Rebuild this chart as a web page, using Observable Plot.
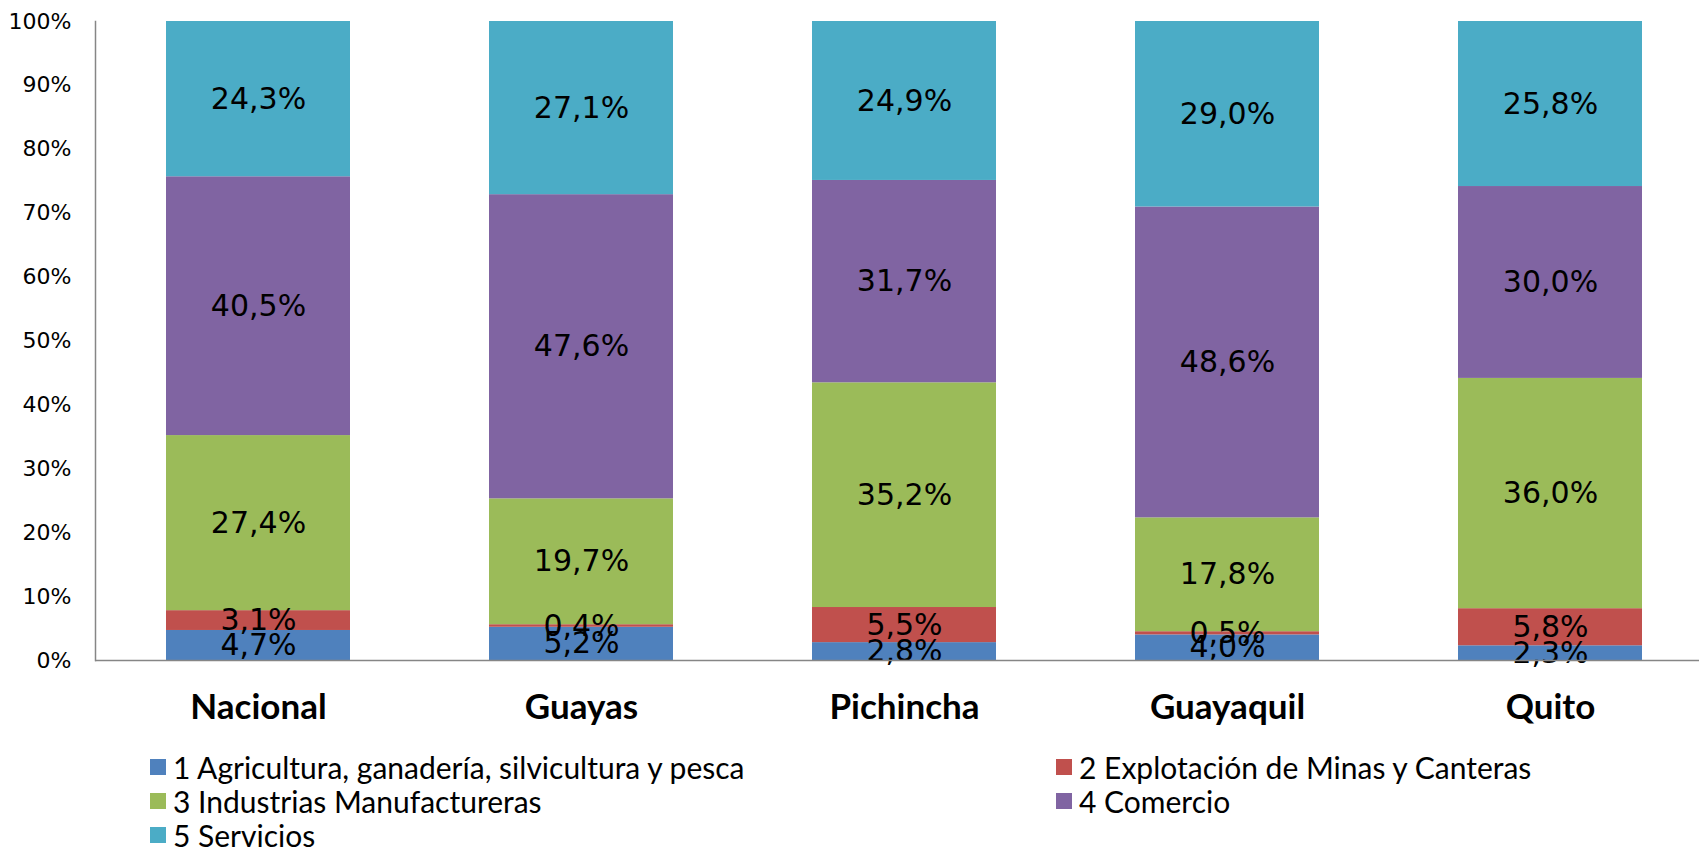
<!DOCTYPE html>
<html>
<head>
<meta charset="utf-8">
<script src="https://cdn.jsdelivr.net/npm/d3@7"></script>
<script src="https://cdn.jsdelivr.net/npm/@observablehq/plot@0.6"></script>
<style>
  html, body { margin: 0; padding: 0; background: #fff; }
  #wrap { position: relative; width: 1699px; height: 854px; overflow: hidden; }
  #legend { position: absolute; left: 150px; top: 752px; display: grid; grid-template-columns: 906px auto; row-gap: 4px;
            font-family: Lato, "Open Sans", sans-serif; font-size: 30px; color: #000; }
  .item { display: flex; align-items: center; height: 30px; line-height: 30px; }
  .sw { width: 16px; height: 16px; margin-right: 7px; flex: none; }
</style>
</head>
<body>
<div id="wrap">
  <div id="chart"></div>
  <div id="legend"></div>
</div>
<script>
const categories = ["Nacional", "Guayas", "Pichincha", "Guayaquil", "Quito"];
const sectors = [
  "1 Agricultura, ganadería, silvicultura y pesca",
  "2 Explotación de Minas y Canteras",
  "3 Industrias Manufactureras",
  "4 Comercio",
  "5 Servicios"
];
const agricultura = [4.7, 5.2, 2.8, 4.0, 2.3];
const minas       = [3.1, 0.4, 5.5, 0.5, 5.8];
const industrias  = [27.4, 19.7, 35.2, 17.8, 36.0];
const comercio    = [40.5, 47.6, 31.7, 48.6, 30.0];
const servicios   = [24.3, 27.1, 24.9, 29.0, 25.8];
const colors = ["#4F81BD", "#C0504D", "#9BBB59", "#8064A2", "#4BACC6"];
const yTicks = [0, 0.1, 0.2, 0.3, 0.4, 0.5, 0.6, 0.7, 0.8, 0.9, 1.0];

const series = [agricultura, minas, industrias, comercio, servicios];
const data = [];
categories.forEach((c, i) => {
  sectors.forEach((s, j) => data.push({cat: c, sector: s, value: series[j][i]}));
});
const fmt = v => v.toFixed(1).replace(".", ",") + "%";

const chart = Plot.plot({
  width: 1699,
  height: 750,
  marginLeft: 95,
  marginRight: 0,
  marginTop: 21,
  marginBottom: 90,
  x: {domain: categories, range: [95, 1712], paddingInner: 0.431, paddingOuter: 0.2155},
  y: {domain: [0, 1]},
  color: {domain: sectors, range: colors},
  marks: [
    Plot.barY(data, Plot.stackY({x: "cat", y: "value", z: "sector", fill: "sector", offset: "normalize"})),
    Plot.text(data, Plot.stackY({x: "cat", y: "value", z: "sector", offset: "normalize",
      text: d => fmt(d.value), fill: "#000", fontSize: 30, fontFamily: "DejaVu Sans"})),
    Plot.frame({anchor: "left", stroke: "#868686", strokeWidth: 1.5}),
    Plot.ruleY([0], {stroke: "#868686", strokeWidth: 1.5}),
    Plot.axisY({ticks: yTicks, tickFormat: d => Math.round(d * 100) + "%", tickSize: 0, tickPadding: 24,
      fontSize: 22, fontFamily: "DejaVu Sans", fill: "#000", label: null}),
    Plot.axisX({tickSize: 0, tickPadding: 34, fontSize: 35, fontWeight: "bold", fontFamily: "Lato", fill: "#000", label: null})
  ]
});
document.getElementById("chart").appendChild(chart);

const legend = document.getElementById("legend");
[0, 1, 2, 3, 4].forEach(j => {
  const it = document.createElement("div");
  it.className = "item";
  const sw = document.createElement("span");
  sw.className = "sw";
  sw.style.background = colors[j];
  const tx = document.createElement("span");
  tx.textContent = sectors[j];
  it.appendChild(sw); it.appendChild(tx);
  legend.appendChild(it);
});
</script>
</body>
</html>
